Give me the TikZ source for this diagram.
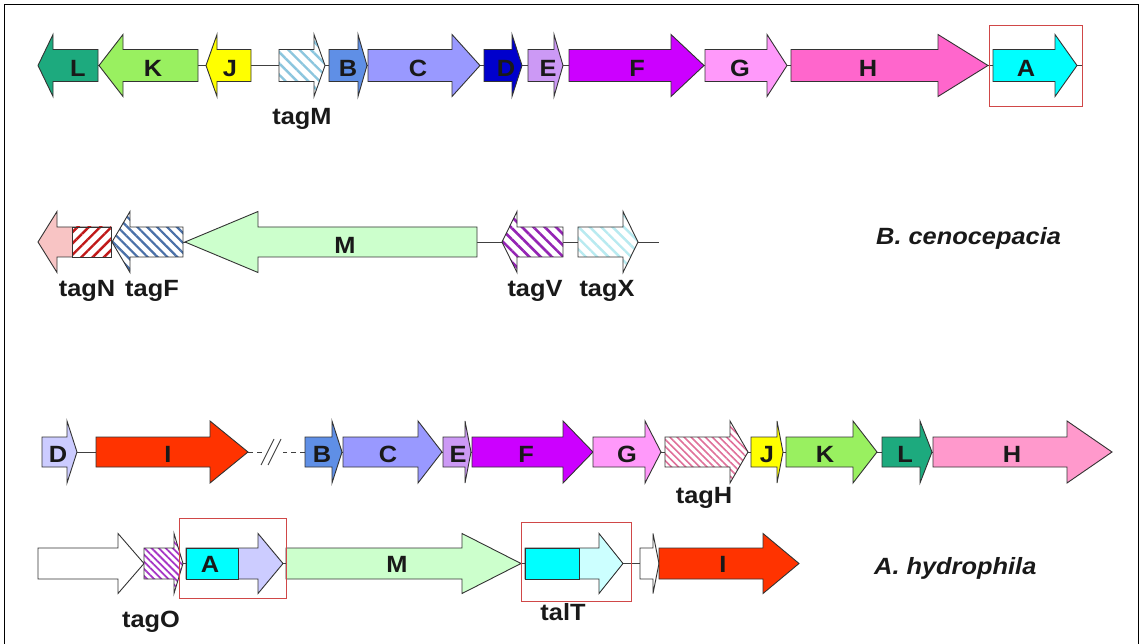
\documentclass[tikz,border=0pt]{standalone}
\usepackage{fontspec}
\setmainfont{Liberation Sans}[FakeStretch=1.08]
\usetikzlibrary{patterns.meta}

% gene colours
\definecolor{cL}{HTML}{1DAA7E}
\definecolor{cK}{HTML}{99F060}
\definecolor{cJ}{HTML}{FFFF00}
\definecolor{cB}{HTML}{5F8FE6}
\definecolor{cC}{HTML}{9999FF}
\definecolor{cDd}{HTML}{0000CC}
\definecolor{cDl}{HTML}{CCCCFF}
\definecolor{cE}{HTML}{CC99F5}
\definecolor{cF}{HTML}{CC00FF}
\definecolor{cG}{HTML}{FF99FA}
\definecolor{cH}{HTML}{FF66CC}
\definecolor{cHl}{HTML}{FF99CC}
\definecolor{cA}{HTML}{00FFFF}
\definecolor{cAl}{HTML}{CCFFFF}
\definecolor{cM}{HTML}{CCFFCC}
\definecolor{cI}{HTML}{FF3300}
\definecolor{cNp}{HTML}{F8C4C4}
\definecolor{hM}{HTML}{8CC6DE}
\definecolor{hN}{HTML}{C01818}
\definecolor{hF}{HTML}{4A70A8}
\definecolor{hV}{HTML}{9424B4}
\definecolor{hX}{HTML}{B8EAF0}
\definecolor{hH}{HTML}{E0709A}
\definecolor{hO}{HTML}{A636C6}
\definecolor{boxred}{HTML}{D04848}

% forward gene: left end, head base, tip, style
\newcommand{\fgene}[4]{%
  \path[gene,#4] (#1,\cy-\bh) -- (#2,\cy-\bh) -- (#2,\cy-\ah) -- (#3,\cy)
    -- (#2,\cy+\ah) -- (#2,\cy+\bh) -- (#1,\cy+\bh) -- cycle;}
% reverse gene: tip, head base, right end, style
\newcommand{\rgene}[4]{%
  \path[gene,#4] (#3,\cy-\bh) -- (#2,\cy-\bh) -- (#2,\cy-\ah) -- (#1,\cy)
    -- (#2,\cy+\ah) -- (#2,\cy+\bh) -- (#3,\cy+\bh) -- cycle;}
% row geometry: centre line, body half height, head half height
\newcommand{\setrow}[3]{\def\cy{#1}\def\bh{#2}\def\ah{#3}}

\begin{document}
\begin{tikzpicture}[x=1pt,y=-1pt,line join=miter,
  gene/.style={draw=black!80,line width=0.9pt},
  hatch/.style n args={4}{preaction={fill=white},
    pattern={Lines[angle=#1,distance=#2,line width=#3]},pattern color=#4},
  spine/.style={draw=black!75,line width=0.9pt},
  frame/.style={draw=boxred,line width=0.9pt},
  glab/.style={font=\bfseries\fontsize{23.5}{27}\selectfont,inner sep=0pt,anchor=base,text=black!90},
  species/.style={font=\bfseries\itshape\fontsize{23.5}{27}\selectfont,inner sep=0pt,anchor=base west,text=black!90}]

\useasboundingbox[fill=white] (0,0) rectangle (1141,644);
\draw[black,line width=1pt] (4,644) -- (4,5) -- (1138,5) -- (1138,644);

% ---------- row 1 ----------
\setrow{65.5}{16}{31}
\coordinate (s1a) at (38,\cy);
\coordinate (s1b) at (1083,\cy);
\draw[spine] (s1a) -- (s1b);
\rgene{38}{53}{98}{fill=cL}
\rgene{99}{123}{198}{fill=cK}
\rgene{206}{217}{251}{fill=cJ}
\fgene{279}{314}{325}{hatch={-45}{8pt}{2.4pt}{hM}}
\fgene{329}{358}{367}{fill=cB}
\fgene{368}{452}{480}{fill=cC}
\fgene{484}{512}{522}{fill=cDd}
\fgene{528}{554}{563}{fill=cE}
\fgene{569}{671}{704}{fill=cF}
\fgene{705}{767}{787}{fill=cG}
\fgene{791}{938}{988}{fill=cH}
\fgene{993}{1055}{1077}{fill=cA}
\draw[frame] (989,25) rectangle (1082,106);
\node[glab] (r1L) at (78,77) {L};
\node[glab] (r1K) at (153,77) {K};
\node[glab] (r1J) at (230,77) {J};
\node[glab] (r1B) at (348,77) {B};
\node[glab] (r1C) at (418,77) {C};
\node[glab] (r1D) at (506,77) {D};
\node[glab] (r1E) at (548,77) {E};
\node[glab] (r1F) at (637,77) {F};
\node[glab] (r1G) at (740,77) {G};
\node[glab] (r1H) at (868,77) {H};
\node[glab] (r1A) at (1026,77) {A};
\node[glab] (r1tagM) at (302,125) {tagM};

% ---------- row 2 ----------
\setrow{242}{15}{30.5}
\coordinate (s2a) at (38,\cy);
\coordinate (s2b) at (659,\cy);
\draw[spine] (s2a) -- (s2b);
\rgene{38}{57}{111}{fill=cNp}
\path[gene,hatch={45}{8pt}{2.4pt}{hN}] (72,227) rectangle (111,257);
\rgene{112}{130}{183}{hatch={-45}{7pt}{2.2pt}{hF}}
\rgene{185}{258}{477}{fill=cM}
\rgene{502}{517}{563}{hatch={-45}{8pt}{2.6pt}{hV}}
\fgene{578}{623}{638}{hatch={-45}{8pt}{2.4pt}{hX}}
\node[glab] (r2M) at (345,254) {M};
\node[glab] (r2tagN) at (87,297) {tagN};
\node[glab] (r2tagF) at (152,297) {tagF};
\node[glab] (r2tagV) at (535,297) {tagV};
\node[glab] (r2tagX) at (607,297) {tagX};
\node[species] (spB) at (876,245) {B. cenocepacia};

% ---------- row 3 ----------
\setrow{452}{15}{31}
\coordinate (s3a) at (42,\cy);
\coordinate (s3b) at (248,\cy);
\coordinate (s3c) at (264,\cy);
\coordinate (s3d) at (283,\cy);
\coordinate (s3e) at (305,\cy);
\coordinate (s3f) at (1112,\cy);
\draw[spine] (s3a) -- (s3b);
\draw[spine,dash pattern=on 5pt off 4pt] (s3b) -- (s3c);
\draw[spine,dash pattern=on 5pt off 4pt] (s3e) -- (s3d);
\draw[spine] (s3e) -- (s3f);
\coordinate (brk1a) at (261,465);
\coordinate (brk1b) at (274,439);
\coordinate (brk2a) at (268,465);
\coordinate (brk2b) at (281,439);
\draw[spine] (brk1a) -- (brk1b);
\draw[spine] (brk2a) -- (brk2b);
\fgene{42}{67}{77}{fill=cDl}
\fgene{96}{210}{248}{fill=cI}
\fgene{305}{332}{342}{fill=cB}
\fgene{343}{418}{442}{fill=cC}
\fgene{443}{465}{471}{fill=cE}
\fgene{472}{563}{593}{fill=cF}
\fgene{593}{645}{661}{fill=cG}
\fgene{665}{730}{748}{hatch={-45}{5pt}{1.6pt}{hH}}
\fgene{751}{777}{783}{fill=cJ}
\fgene{786}{853}{877}{fill=cK}
\fgene{882}{920}{932}{fill=cL}
\fgene{933}{1067}{1112}{fill=cHl}
\node[glab] (r3D) at (58,462.5) {D};
\node[glab] (r3I) at (168,462.5) {I};
\node[glab] (r3B) at (322,462.5) {B};
\node[glab] (r3C) at (388,462.5) {C};
\node[glab] (r3E) at (458,462.5) {E};
\node[glab] (r3F) at (526,462.5) {F};
\node[glab] (r3G) at (627,462.5) {G};
\node[glab] (r3J) at (767,462.5) {J};
\node[glab] (r3K) at (825,462.5) {K};
\node[glab] (r3L) at (905,462.5) {L};
\node[glab] (r3H) at (1012,462.5) {H};
\node[glab] (r3tagH) at (704,503) {tagH};

% ---------- row 4 ----------
\setrow{563.5}{15.5}{30}
\coordinate (s4a) at (38,\cy);
\coordinate (s4b) at (799,\cy);
\draw[spine] (s4a) -- (s4b);
\fgene{38}{118}{144}{fill=white}
\fgene{144}{174}{183}{hatch={-45}{5pt}{1.8pt}{hO}}
\fgene{186}{258}{283}{fill=cDl}
\path[gene,fill=cA] (186,548) rectangle (238,579);
\fgene{286}{462}{521}{fill=cM}
\fgene{525}{599}{623}{fill=cAl}
\path[gene,fill=cA] (525,548) rectangle (579,579);
\fgene{640}{653}{659}{fill=white}
\fgene{659}{763}{799}{fill=cI}
\draw[frame] (179,518) rectangle (286,598);
\draw[frame] (521,522) rectangle (631,601);
\node[glab] (r4A) at (210,572.5) {A};
\node[glab] (r4M) at (397,572.5) {M};
\node[glab] (r4I) at (723,572.5) {I};
\node[glab] (r4tagO) at (151,627) {tagO};
\node[glab] (r4talT) at (563,620) {talT};
\node[species] (spA) at (874,574) {A. hydrophila};

\end{tikzpicture}
\end{document}
